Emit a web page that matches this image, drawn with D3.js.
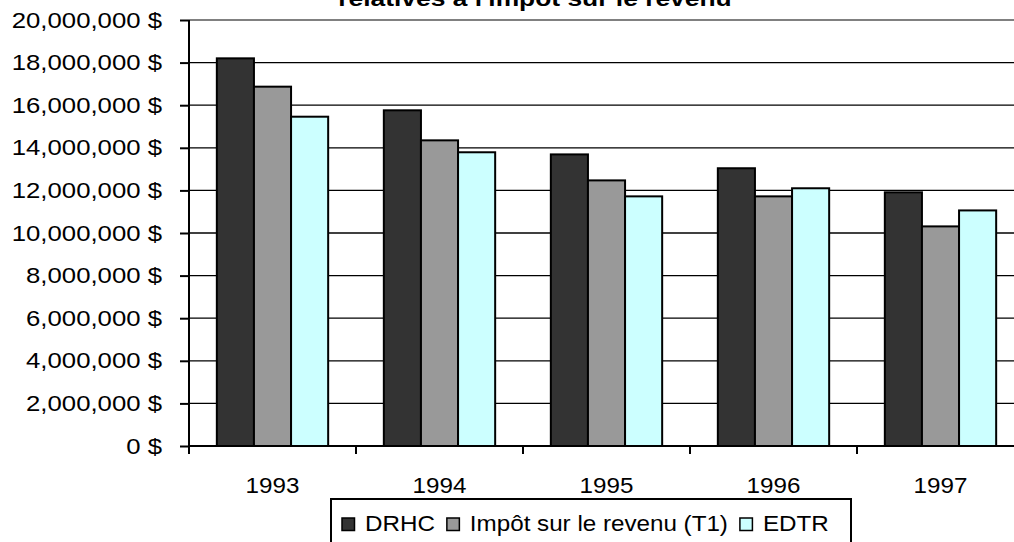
<!DOCTYPE html>
<html>
<head>
<meta charset="utf-8">
<script src="https://cdn.jsdelivr.net/npm/d3@7"></script>
<style>
  body { margin: 0; background: #fff; }
  text { font-family: "Liberation Sans", Arial, sans-serif; fill: #000; }
</style>
</head>
<body>
<svg class="chart"></svg>
<script>
// data
var years = ["1993", "1994", "1995", "1996", "1997"];
var seriesNames = ["DRHC", "Impôt sur le revenu (T1)", "EDTR"];
var drhc = [18200000, 15760000, 13690000, 13040000, 11910000];
var impot = [16870000, 14350000, 12470000, 11720000, 10310000];
var edtr = [15460000, 13790000, 11720000, 12100000, 11060000];
var yTicks = [0, 2000000, 4000000, 6000000, 8000000, 10000000, 12000000, 14000000, 16000000, 18000000, 20000000];
var titleText = "relatives à l'impôt sur le revenu";

var colors = {"DRHC": "#333333", "Impôt sur le revenu (T1)": "#999999", "EDTR": "#ccffff"};
var stretch = 1.1; // the original text looks horizontally wide
var yStretch = 1.17;

var screen = {width: 1014, height: 542};
var margins = {top: 20, left: 189, bottom: 96};
var plotRight = 1024;
var height = screen.height - margins.top - margins.bottom;

var svg = d3.select(".chart")
  .attr("width", screen.width)
  .attr("height", screen.height);

var xScale = d3.scaleBand()
  .domain(years)
  .range([margins.left, plotRight])
  .paddingInner(0).paddingOuter(0);

var inner = d3.scaleBand()
  .domain(seriesNames)
  .range([0, xScale.bandwidth()])
  .paddingInner(0).paddingOuter(0.75);

var yScale = d3.scaleLinear()
  .domain([0, 20000000])
  .range([margins.top + height, margins.top]);

var rows = years.map(function(y, i) {
  return {year: y, values: [
    {name: seriesNames[0], v: drhc[i]},
    {name: seriesNames[1], v: impot[i]},
    {name: seriesNames[2], v: edtr[i]}
  ]};
});

// gridlines
svg.append("g").selectAll("line")
  .data(yTicks.filter(function(d) { return d > 0 && d < 20000000; }))
  .enter().append("line")
  .attr("x1", margins.left).attr("x2", plotRight)
  .attr("y1", function(d) { return yScale(d); })
  .attr("y2", function(d) { return yScale(d); })
  .attr("stroke", "#000").attr("stroke-width", 1.3);

// top border (grey)
svg.append("line")
  .attr("x1", margins.left).attr("x2", plotRight)
  .attr("y1", yScale(20000000)).attr("y2", yScale(20000000))
  .attr("stroke", "#808080").attr("stroke-width", 2);

// bars
var groups = svg.append("g").selectAll("g")
  .data(rows).enter().append("g")
  .attr("transform", function(d) { return "translate(" + xScale(d.year) + ",0)"; });

groups.selectAll("rect")
  .data(function(d) { return d.values; })
  .enter().append("rect")
  .attr("x", function(d) { return inner(d.name); })
  .attr("width", inner.bandwidth())
  .attr("y", function(d) { return yScale(d.v); })
  .attr("height", function(d) { return yScale(0) - yScale(d.v); })
  .attr("fill", function(d) { return colors[d.name]; })
  .attr("stroke", "#000").attr("stroke-width", 2);

// y axis
var yAxis = d3.axisLeft(yScale)
  .tickValues(yTicks)
  .tickSize(9)
  .tickFormat(function(d) { return d3.format(",")(d) + " $"; });

var yG = svg.append("g").classed("yAxis", true)
  .attr("transform", "translate(" + margins.left + ",0)")
  .call(yAxis);
yG.select(".domain").attr("stroke", "#000").attr("stroke-width", 2)
  .attr("d", "M0," + yScale(20000000) + "V" + yScale(0));
yG.selectAll(".tick line").attr("stroke", "#000").attr("stroke-width", 2);
yG.selectAll(".tick text")
  .attr("x", 0)
  .attr("transform", "translate(-27,0) scale(" + yStretch + ",1)")
  .style("font-size", "22px")
  .attr("fill", "#000");

// x axis
var baseY = yScale(0);
svg.append("line")
  .attr("x1", margins.left).attr("x2", plotRight)
  .attr("y1", baseY).attr("y2", baseY)
  .attr("stroke", "#000").attr("stroke-width", 2);

svg.append("g").selectAll("line")
  .data(years)
  .enter().append("line")
  .attr("x1", function(d) { return xScale(d); })
  .attr("x2", function(d) { return xScale(d); })
  .attr("y1", baseY).attr("y2", baseY + 8)
  .attr("stroke", "#000").attr("stroke-width", 2);

svg.append("g").selectAll("text")
  .data(years)
  .enter().append("text")
  .attr("transform", function(d) {
    return "translate(" + (xScale(d) + xScale.bandwidth() / 2) + "," + (baseY + 47) + ") scale(" + stretch + ",1)";
  })
  .attr("text-anchor", "middle")
  .style("font-size", "22px")
  .text(function(d) { return d; });

// title (only its last line is visible)
svg.append("text")
  .attr("transform", "translate(535,6) scale(1.2,1)")
  .attr("text-anchor", "middle")
  .style("font-size", "22px")
  .style("font-weight", "bold")
  .text(titleText);

// legend
var legend = svg.append("g").classed("legend", true);
legend.append("rect")
  .attr("x", 331).attr("y", 499)
  .attr("width", 520).attr("height", 70)
  .attr("fill", "#fff").attr("stroke", "#000").attr("stroke-width", 2);

var lx = 342;
seriesNames.forEach(function(name) {
  legend.append("rect")
    .attr("x", lx).attr("y", 518)
    .attr("width", 12.5).attr("height", 12.5)
    .attr("fill", colors[name]).attr("stroke", "#000").attr("stroke-width", 1.5);
  var t = legend.append("text")
    .attr("transform", "translate(" + (lx + 23) + ",531) scale(" + stretch + ",1)")
    .style("font-size", "22px")
    .text(name);
  lx = lx + 23 + t.node().getComputedTextLength() * stretch + 12;
});
</script>
</body>
</html>
